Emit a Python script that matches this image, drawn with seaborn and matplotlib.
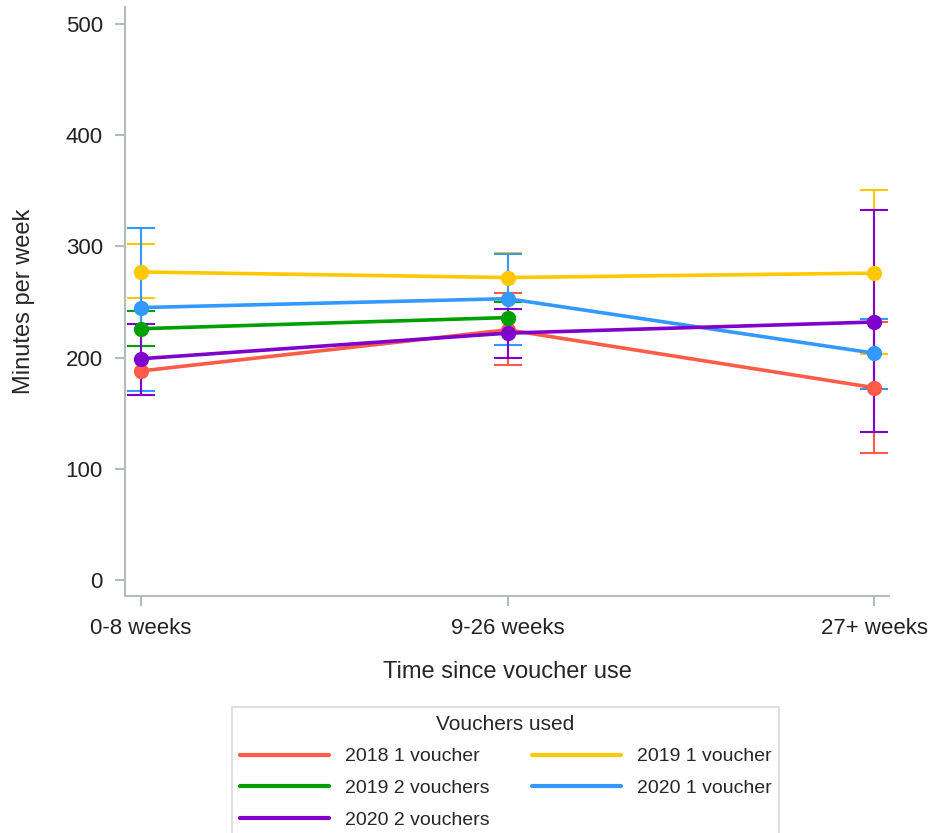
import numpy as np
import pandas as pd
import matplotlib.pyplot as plt
import seaborn as sns

# Values: mean minutes per week with lower / upper CI
periods = ["0-8 weeks", "9-26 weeks", "27+ weeks"]
groups = ["2018 1 voucher", "2019 1 voucher", "2019 2 vouchers",
          "2020 1 voucher", "2020 2 vouchers"]

mean_2018_1 = [188, 225, 173]
low_2018_1 = [166, 193, 114]
high_2018_1 = [210, 258, 232]

mean_2019_1 = [277, 272, 276]
low_2019_1 = [254, 250, 203]
high_2019_1 = [302, 294, 351]

mean_2019_2 = [226, 236, np.nan]
low_2019_2 = [210, 222, np.nan]
high_2019_2 = [242, 250, np.nan]

mean_2020_1 = [245, 253, 204]
low_2020_1 = [170, 211, 172]
high_2020_1 = [317, 293, 235]

mean_2020_2 = [199, 222, 232]
low_2020_2 = [166, 200, 133]
high_2020_2 = [230, 244, 333]

colors = ["#FF5B47", "#FFC800", "#00A000", "#3399FF", "#8000CC"]

rows = []
for g, m, lo, hi in zip(groups,
                        [mean_2018_1, mean_2019_1, mean_2019_2, mean_2020_1, mean_2020_2],
                        [low_2018_1, low_2019_1, low_2019_2, low_2020_1, low_2020_2],
                        [high_2018_1, high_2019_1, high_2019_2, high_2020_1, high_2020_2]):
    for i, p in enumerate(periods):
        rows.append({"group": g, "period": p, "pos": i, "mean": m[i], "low": lo[i], "high": hi[i]})
df = pd.DataFrame(rows).dropna()

sns.set_style("white")
plt.rcParams["font.family"] = ["Liberation Sans", "DejaVu Sans"]

fig = plt.figure(figsize=(9.38, 8.33), dpi=100)
ax = fig.add_axes([0.1333, 0.2845, 0.8145, 0.7071])

palette = dict(zip(groups, colors))

# error bars first
for g in groups:
    d = df[df["group"] == g]
    ax.errorbar(d["pos"], d["mean"], yerr=[d["mean"] - d["low"], d["high"] - d["mean"]],
                fmt="none", ecolor=palette[g], elinewidth=1.5, capsize=10, capthick=1.5)

sns.lineplot(data=df, x="pos", y="mean", hue="group", hue_order=groups, palette=palette,
             marker="o", markersize=11, markeredgewidth=0, linewidth=2.6, ax=ax,
             estimator=None, legend=False)

ax.set_xlim(-0.0437, 2.041)
ax.set_ylim(-14.4, 515.3)
ax.set_xticks(range(len(periods)))
ax.set_xticklabels(periods)
ax.set_yticks([0, 100, 200, 300, 400, 500])
ax.set_xlabel("Time since voucher use", fontsize=17, labelpad=16)
ax.set_ylabel("Minutes per week", fontsize=17, labelpad=22)

sns.despine(ax=ax)
for s in ["left", "bottom"]:
    ax.spines[s].set_color("#B4BBBF")
    ax.spines[s].set_linewidth(1.5)
ax.tick_params(axis="both", colors="#B4BBBF", length=7, width=1.5, labelsize=16,
               labelcolor="#222222", pad=9, direction="out", left=True, bottom=True)

# legend laid out row-wise in two columns
handles = [plt.Line2D([], [], color=c, linewidth=3) for c in colors]
order = [0, 2, 4, 1, 3]
leg = fig.legend([handles[i] for i in order], [groups[i] for i in order],
                 title="Vouchers used", ncol=2, loc="upper center",
                 bbox_to_anchor=(0.539, 0.1513), borderaxespad=0,
                 fontsize=14, title_fontsize=15,
                 handlelength=4.6, columnspacing=2.2, labelspacing=0.72,
                 frameon=True, fancybox=False, edgecolor="#D0D0D0", borderpad=0.4)
leg.get_frame().set_linewidth(1.2)

fig.savefig("out.png", dpi=100)
